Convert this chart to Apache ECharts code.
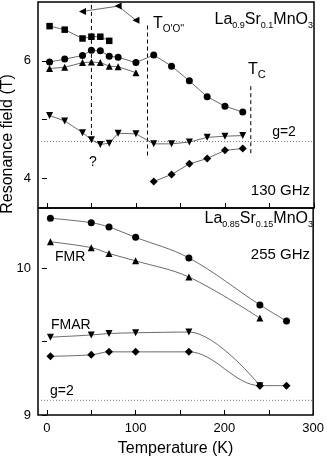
<!DOCTYPE html>
<html>
<head>
<meta charset="utf-8">
<script src="https://cdn.jsdelivr.net/npm/echarts@6/dist/echarts.min.js"></script>
<style>
  html, body { margin: 0; padding: 0; background: #fff; }
  #chart { width: 327px; height: 460px; }
</style>
</head>
<body>
<div id="chart"></div>
<script>
// x axis
const xMin = -10
const xMax = 300
const xTicks = [0, 50, 100, 150, 200, 250, 300]
const xLabels = [0, 100, 200, 300]

// top panel: La0.9Sr0.1MnO3, 130 GHz
const topYMin = 3.5
const topYMax = 7
const topYTicks = [4, 5, 6]
const topYLabels = [4, 6]
const topT = [3, 20, 40, 50, 60, 70, 80, 100, 120, 140, 160, 180, 200, 220]
const topCircle = [5.98, 6.03, 6.09, 6.18, 6.17, 6.08, 6.06, 5.97, 6.10, 5.91, 5.66, 5.39, 5.23, 5.13]
const topTriDown = [5.07, 4.98, 4.78, 4.66, 4.58, 4.60, 4.77, 4.76, 4.59, 4.59, 4.62, 4.70, 4.72, 4.73]
const topTriUpT = [3, 20, 40, 50, 60, 70, 80, 100]
const topTriUp = [5.87, 5.89, 5.97, 5.98, 5.97, 5.91, 5.90, 5.80]
const topSquareT = [3, 20, 40, 50, 60, 70]
const topSquare = [6.59, 6.53, 6.38, 6.41, 6.41, 6.34]
const topTriLeftT = [40, 80, 100]
const topTriLeft = [6.84, 6.93, 6.69]
const topDiamondT = [120, 140, 160, 180, 200, 220]
const topDiamond = [3.95, 4.07, 4.25, 4.34, 4.48, 4.51]
const topG2 = 4.63
const t50Line = [[50, 6.95], [50, 4.72]]
const tooLine = [[113, 6.6], [113, 4.36]]
const tcLine = [[229, 5.57], [229, 4.38]]

// bottom panel: La0.85Sr0.15MnO3, 255 GHz
const botYMin = 9
const botYMax = 10.41
const botYTicks = [9, 9.5, 10]
const botYLabels = [9, 10]
const botT = [4, 50, 70, 100, 160, 240, 270]
const botCircle = [10.34, 10.31, 10.28, 10.21, 10.07, 9.75, 9.64]
const botTriUpT = [4, 50, 70, 100, 160, 240]
const botTriUp = [10.18, 10.14, 10.10, 10.05, 9.94, 9.66]
const botFmarT = [4, 50, 70, 100, 160, 240]
const botFmar = [9.53, 9.545, 9.555, 9.56, 9.565, 9.20]
const botDiamond = [9.40, 9.41, 9.43, 9.43, 9.43, 9.20, 9.20]
const botG2 = 9.10

const FONT = '"Liberation Sans", Arial, Helvetica, sans-serif'

const zip = (xs, ys) => xs.map((x, i) => [x, ys[i]])

const chart = echarts.init(document.getElementById('chart'), null, { renderer: 'canvas' })

const xAxisBase = (gridIndex, showLabels) => ({
  gridIndex,
  type: 'value',
  min: xMin,
  max: xMax,
  axisLine: { show: false },
  splitLine: { show: false },
  axisTick: {
    show: true,
    inside: true,
    length: 5,
    customValues: xTicks,
    lineStyle: { color: '#000', width: 1 }
  },
  axisLabel: {
    show: showLabels,
    customValues: xLabels,
    margin: 7,
    color: '#000',
    fontSize: 13,
    fontFamily: FONT
  }
})

const yAxisBase = (gridIndex, min, max, ticks, labels) => ({
  gridIndex,
  type: 'value',
  min,
  max,
  axisLine: { show: false },
  splitLine: { show: false },
  axisTick: {
    show: true,
    inside: false,
    length: 5,
    customValues: ticks,
    lineStyle: { color: '#000', width: 1 }
  },
  axisLabel: {
    customValues: labels,
    margin: 7,
    color: '#000',
    fontSize: 13,
    fontFamily: FONT
  }
})

const dataSeries = (idx, symbol, data, opts = {}) => Object.assign({
  type: 'line',
  xAxisIndex: idx,
  yAxisIndex: idx,
  data,
  symbol,
  symbolSize: 7,
  showSymbol: true,
  itemStyle: { color: '#000' },
  lineStyle: { color: '#444', width: 0.8 },
  emphasis: { disabled: true },
  silent: true,
  z: 3
}, opts)

const refLine = (idx, data, type) => ({
  type: 'line',
  xAxisIndex: idx,
  yAxisIndex: idx,
  data,
  symbol: 'none',
  lineStyle: { color: type === 'dotted' ? '#555' : '#000', width: type === 'dotted' ? 0.8 : 1, type: type === 'dotted' ? [1, 2] : [4, 3] },
  emphasis: { disabled: true },
  silent: true,
  z: 2
})

const richStyle = (nSize, sSize) => ({
  n: { fontSize: nSize, fontFamily: FONT, fill: '#000', lineHeight: 18, verticalAlign: 'top' },
  s: { fontSize: sSize, fontFamily: FONT, fill: '#000', lineHeight: 10, verticalAlign: 'bottom' }
})

const label = (text, x, y, align, vAlign, size, extra = {}) => Object.assign({
  type: 'text',
  x,
  y,
  silent: true,
  style: {
    text,
    fill: '#000',
    font: size + 'px ' + FONT,
    align,
    verticalAlign: vAlign
  }
}, extra)

const richLabel = (text, x, y, align, nSize, sSize) => ({
  type: 'text',
  x,
  y,
  silent: true,
  style: {
    text,
    align,
    verticalAlign: 'top',
    rich: richStyle(nSize, sSize)
  }
})

const option = {
  animation: false,
  backgroundColor: '#fff',
  grid: [
    { left: 38, top: 2, width: 276, height: 206, show: true, borderColor: '#000', borderWidth: 1.5, backgroundColor: 'transparent' },
    { left: 38, top: 208, width: 276, height: 207, show: true, borderColor: '#000', borderWidth: 1.5, backgroundColor: 'transparent' }
  ],
  xAxis: [
    xAxisBase(0, false),
    Object.assign(xAxisBase(1, true), {
      name: 'Temperature (K)',
      nameLocation: 'middle',
      nameGap: 26,
      nameTextStyle: { color: '#000', fontSize: 16, fontFamily: FONT }
    })
  ],
  yAxis: [
    yAxisBase(0, topYMin, topYMax, topYTicks, topYLabels),
    yAxisBase(1, botYMin, botYMax, botYTicks, botYLabels)
  ],
  series: [
    // top panel
    refLine(0, [[xMin, topG2], [xMax, topG2]], 'dotted'),
    refLine(0, t50Line, 'dashed'),
    refLine(0, tooLine, 'dashed'),
    refLine(0, tcLine, 'dashed'),
    dataSeries(0, 'circle', zip(topT, topCircle)),
    dataSeries(0, 'triangle', zip(topT, topTriDown), { symbolRotate: 180 }),
    dataSeries(0, 'triangle', zip(topTriUpT, topTriUp)),
    dataSeries(0, 'rect', zip(topSquareT, topSquare), { symbolSize: 6.5 }),
    dataSeries(0, 'triangle', zip(topTriLeftT, topTriLeft), { symbolRotate: 90 }),
    dataSeries(0, 'diamond', zip(topDiamondT, topDiamond), { symbolSize: 8 }),
    // bottom panel
    refLine(1, [[xMin, botG2], [xMax, botG2]], 'dotted'),
    dataSeries(1, 'circle', zip(botT, botCircle), { smooth: 0.35 }),
    dataSeries(1, 'triangle', zip(botTriUpT, botTriUp), { smooth: 0.35 }),
    dataSeries(1, 'triangle', zip(botFmarT, botFmar), { smooth: 0.35, symbolRotate: 180 }),
    dataSeries(1, 'diamond', zip(botT, botDiamond), { smooth: 0.35, symbolSize: 8 })
  ],
  graphic: [
    label('Resonance field (T)', 8, 144, 'center', 'middle', 16, { rotation: Math.PI / 2 }),
    richLabel('{n|La}{s|0.9}{n|Sr}{s|0.1}{n|MnO}{s|3}', 313, 12, 'right', 16, 9),
    richLabel('{n|T}{s|O\'O\'\'}', 153, 16, 'left', 16, 10),
    richLabel('{n|T}{s|C}', 248, 62, 'left', 16, 11),
    label('g=2', 284, 132, 'center', 'middle', 14),
    label('?', 93, 162, 'center', 'middle', 14),
    label('130 GHz', 310, 191, 'right', 'middle', 15),
    richLabel('{n|La}{s|0.85}{n|Sr}{s|0.15}{n|MnO}{s|3}', 313, 211, 'right', 16, 9),
    label('255 GHz', 310, 255, 'right', 'middle', 15),
    label('FMR', 55, 257, 'left', 'middle', 14),
    label('FMAR', 51, 325, 'left', 'middle', 14),
    label('g=2', 50, 391, 'left', 'middle', 14)
  ]
}

chart.setOption(option)
</script>
</body>
</html>
